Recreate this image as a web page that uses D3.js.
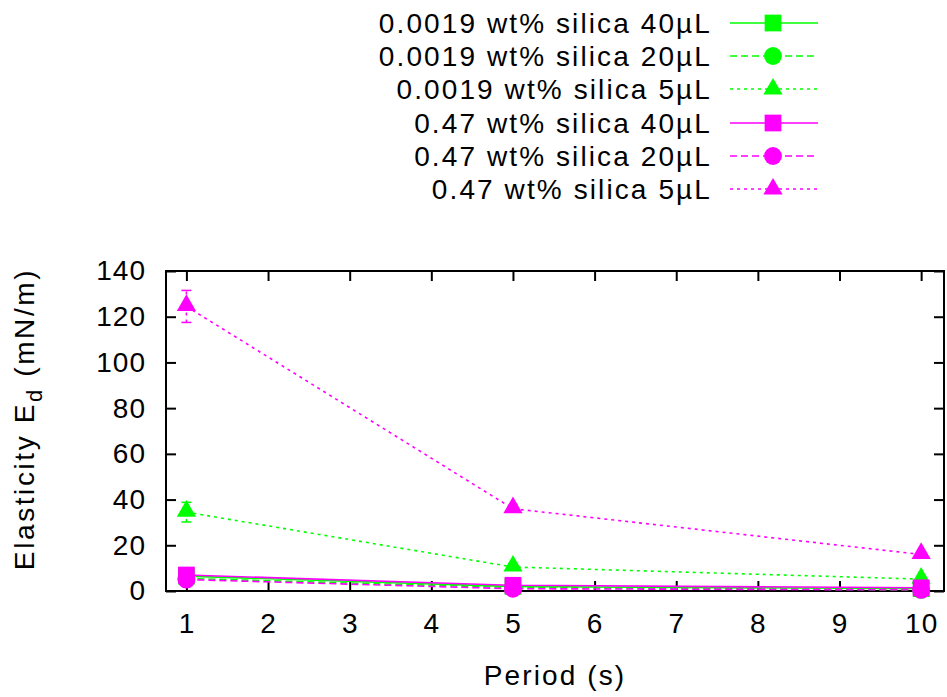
<!DOCTYPE html>
<html><head><meta charset="utf-8">
<script src="https://cdn.jsdelivr.net/npm/d3@7"></script>
<style>body{margin:0;background:#fff}svg{display:block}text{font-family:"Liberation Sans",Arial,sans-serif}</style>
</head><body>
<script>
const periods = [1, 5, 10];
const seriesNames = ["0.0019 wt% silica 40µL","0.0019 wt% silica 20µL","0.0019 wt% silica 5µL","0.47 wt% silica 40µL","0.47 wt% silica 20µL","0.47 wt% silica 5µL"];
const seriesColors = ["#00ff00","#00ff00","#00ff00","#ff00ff","#ff00ff","#ff00ff"];
const seriesSymbols = ["square","circle","triangle","square","circle","triangle"];
const seriesDash = ["none","7,4","3,4","none","7,4","3,4"];
const green40 = [6.5, 2.0, 1.0];
const green20 = [5.5, 1.5, 0.5];
const green5 = [34.5, 10.5, 5.2];
const pink40 = [7.0, 2.5, 1.4];
const pink20 = [5.0, 1.0, 0.5];
const pink5 = [124.5, 36.0, 16.0];
const green5Err = [4.3, 1.0, 0.5];
const pink5Err = [7.0, 1.5, 0.8];
const noErr = [0, 0, 0];
const seriesValues = [green40, green20, green5, pink40, pink20, pink5];
const seriesErrors = [noErr, noErr, green5Err, noErr, noErr, pink5Err];
const xTicks = [1,2,3,4,5,6,7,8,9,10];
const yTicks = [0,20,40,60,80,100,120,140];

const W = 947, H = 697;
const FS = 28, LS = 2.1;
const m = {left:166, right:944, top:271, bottom:591};
const svg = d3.select("body").append("svg").attr("width",W).attr("height",H);
const x = d3.scaleLinear().domain([0.75,10.28]).range([m.left,m.right]);
const y = d3.scaleLinear().domain([0,140]).range([m.bottom,m.top]);

svg.append("rect").attr("x",m.left).attr("y",m.top).attr("width",m.right-m.left).attr("height",m.bottom-m.top)
  .attr("fill","none").attr("stroke","#000").attr("stroke-width",2);

const tl = 10;
const gx = svg.append("g").attr("transform",`translate(0,${m.bottom})`).call(d3.axisBottom(x).tickValues(xTicks).tickSize(-tl).tickPadding(22).tickFormat(d3.format("d")));
const gx2 = svg.append("g").attr("transform",`translate(0,${m.top})`).call(d3.axisTop(x).tickValues(xTicks).tickSize(-tl).tickFormat(""));
const gy = svg.append("g").attr("transform",`translate(${m.left},0)`).call(d3.axisLeft(y).tickValues(yTicks).tickSize(-tl).tickPadding(20).tickFormat(d3.format("d")));
const gy2 = svg.append("g").attr("transform",`translate(${m.right},0)`).call(d3.axisRight(y).tickValues(yTicks).tickSize(-tl).tickFormat(""));
[gx,gx2,gy,gy2].forEach(g=>{
  g.select(".domain").remove();
  g.selectAll(".tick line").attr("stroke","#000").attr("stroke-width",2);
  g.selectAll("text").attr("font-size",FS).attr("letter-spacing",1).attr("fill","#000").attr("font-family","Liberation Sans, Arial, sans-serif");
});

svg.append("text").attr("x",555).attr("y",685).attr("text-anchor","middle").attr("font-size",FS).attr("letter-spacing",LS).text("Period (s)");
const yl = svg.append("text").attr("transform",`translate(34,419) rotate(-90)`).attr("text-anchor","middle").attr("font-size",FS).attr("letter-spacing",2.6);
yl.append("tspan").text("Elasticity E");
yl.append("tspan").attr("font-size",22).attr("dy",8).text("d");
yl.append("tspan").attr("dy",-8).text("  (mN/m)");

function symbolPath(s, size){
  const t = s==="square"?d3.symbolSquare:s==="circle"?d3.symbolCircle:d3.symbolTriangle;
  return d3.symbol().type(t).size(size)();
}
const symSize = {square:280, circle:250, triangle:160};

const line = d3.line().x((d,i)=>x(periods[i])).y(d=>y(d));
seriesValues.forEach((vals,k)=>{
  const g = svg.append("g");
  g.append("path").datum(vals).attr("d",line).attr("fill","none")
    .attr("stroke",seriesColors[k]).attr("stroke-width",1.6)
    .attr("stroke-dasharray",seriesDash[k]);
  vals.forEach((v,i)=>{
    const e = seriesErrors[k][i];
    const xe = x(periods[i]);
    if(e>0){
      g.append("line").attr("x1",xe).attr("x2",xe).attr("y1",y(v-e)).attr("y2",y(v+e))
        .attr("stroke",seriesColors[k]).attr("stroke-width",1.5).attr("stroke-dasharray",seriesDash[k]);
      [v-e,v+e].forEach(b=>g.append("line").attr("x1",xe-5).attr("x2",xe+5).attr("y1",y(b)).attr("y2",y(b))
        .attr("stroke",seriesColors[k]).attr("stroke-width",1.5));
    }
    g.append("path").attr("d",symbolPath(seriesSymbols[k],symSize[seriesSymbols[k]]))
      .attr("transform",`translate(${xe},${y(v) + (seriesSymbols[k]==="triangle"?-1:0)})`)
      .attr("fill",seriesColors[k]);
  });
});

const legY = [23,56,89,123,156,189];
seriesNames.forEach((n,k)=>{
  const yy = legY[k];
  svg.append("text").attr("x",712).attr("y",yy+10).attr("text-anchor","end").attr("font-size",FS).attr("letter-spacing",LS).text(n);
  svg.append("line").attr("x1",730).attr("x2",818).attr("y1",yy).attr("y2",yy)
    .attr("stroke",seriesColors[k]).attr("stroke-width",1.6).attr("stroke-dasharray",seriesDash[k]);
  svg.append("path").attr("d",symbolPath(seriesSymbols[k],symSize[seriesSymbols[k]]))
    .attr("transform",`translate(773,${yy})`).attr("fill",seriesColors[k]);
});
</script>
</body></html>
